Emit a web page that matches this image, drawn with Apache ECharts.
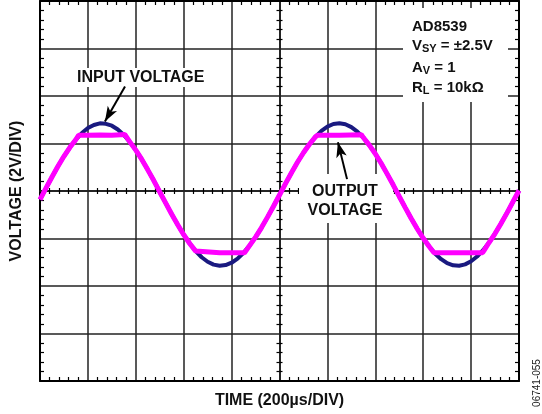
<!DOCTYPE html>
<html>
<head>
<meta charset="utf-8">
<script src="https://cdn.jsdelivr.net/npm/echarts@6/dist/echarts.min.js"></script>
<style>
html,body{margin:0;padding:0;background:#fff;}
#chart{width:542px;height:414px;}
</style>
</head>
<body>
<div id="chart"></div>
<script>
// Time in µs relative to screen centre (200 µs/div, 10 divisions)
const timeUs = [-1000,-975,-950,-925,-900,-875,-850,-825,-800,-775,-750,-725,-700,-675,-650,-625,-600,-575,-550,-525,
  -500,-475,-450,-425,-400,-375,-350,-325,-300,-275,-250,-225,-200,-175,-150,-125,-100,-75,-50,-25,
  0,25,50,75,100,125,150,175,200,225,250,275,300,325,350,375,400,425,450,475,
  500,525,550,575,600,625,650,675,700,725,750,775,800,825,850,875,900,925,950,975,1000];
// Input voltage (V)
const inputV = [-0.36,0.12,0.59,1.04,1.46,1.84,2.17,2.44,2.65,2.78,2.85,2.83,2.75,2.59,2.36,2.07,1.72,1.33,0.89,0.44,
  -0.04,-0.51,-0.98,-1.42,-1.84,-2.21,-2.53,-2.79,-2.98,-3.10,-3.15,-3.12,-3.02,-2.85,-2.60,-2.30,-1.94,-1.54,-1.10,-0.64,
  -0.17,0.31,0.77,1.21,1.61,1.97,2.28,2.53,2.71,2.82,2.85,2.81,2.69,2.50,2.25,1.93,1.57,1.16,0.71,0.25,
  -0.23,-0.70,-1.16,-1.59,-1.99,-2.34,-2.64,-2.87,-3.04,-3.13,-3.15,-3.09,-2.96,-2.76,-2.49,-2.17,-1.79,-1.37,-0.92,-0.45,0.02];
// Output voltage (V) (clipped)
const outputT = [-1000,-975,-950,-925,-900,-875,-850,-839,-800,-750,-700,-646,-625,-600,-575,-550,-525,
  -500,-475,-450,-425,-400,-375,-350,-342,-250,-146,-125,-100,-75,-50,-25,
  0,25,50,75,100,125,150,159,250,342,350,375,400,425,450,475,
  500,525,550,575,600,625,645,750,848,855,875,900,925,950,975,1000];
const outputV = [-0.36,0.12,0.59,1.04,1.46,1.84,2.17,2.35,2.35,2.36,2.35,2.38,2.07,1.72,1.33,0.89,0.44,
  -0.04,-0.51,-0.98,-1.42,-1.84,-2.21,-2.53,-2.60,-2.60,-2.60,-2.30,-1.94,-1.54,-1.10,-0.64,
  -0.17,0.31,0.77,1.21,1.61,1.97,2.28,2.35,2.35,2.37,2.25,1.93,1.57,1.16,0.71,0.25,
  -0.23,-0.70,-1.16,-1.59,-1.99,-2.34,-2.60,-2.60,-2.60,-2.49,-2.17,-1.79,-1.37,-0.92,-0.45,0.02];
const xRange = [-1000, 1000], xStep = 200;
const yRange = [-8, 8], yStep = 2;
const inputArrow = [[-645, 4.40], [-729, 2.93]];
const outputArrow = [[282, 0.50], [244, 2.05]];

const FONT = '"Liberation Sans", Arial, Helvetica, sans-serif';
const chart = echarts.init(document.getElementById('chart'), null, {renderer: 'canvas'});

function baseAxis(pos, extra) {
  const isX = pos === 'top' || pos === 'bottom';
  return Object.assign({
    type: 'value', position: pos,
    min: isX ? xRange[0] : yRange[0],
    max: isX ? xRange[1] : yRange[1],
    interval: isX ? xStep : yStep,
    axisLabel: {show: false},
    axisTick: {show: false, inside: true},
    minorTick: {show: true, splitNumber: 5, length: 4, lineStyle: {color: '#000', width: 1.2}},
    splitLine: {show: false},
    axisLine: {show: true, onZero: false, lineStyle: {color: '#000', width: 2}}
  }, extra || {});
}
const gridLine = {show: true, lineStyle: {color: '#222', width: 1.5}};
const centerLine = (up) => ({
  axisLine: {show: true, onZero: true, onZeroAxisIndex: 0, lineStyle: {color: '#222', width: 1.5}},
  axisTick: {show: false, inside: up},
  minorTick: {show: true, splitNumber: 5, length: 3, lineStyle: {color: '#000', width: 1.2}}
});
const sub = (main, s, rest, top) => ({
  type: 'text', z: 11, left: 412, top: top, style: {
    text: '{m|' + main + '}{s|' + s + '}{m|' + rest + '}', fill: '#111',
    rich: {m: {font: 'bold 15px ' + FONT, fill: '#111', lineHeight: 18},
           s: {font: 'bold 11px ' + FONT, fill: '#111', lineHeight: 8, verticalAlign: 'bottom'}}}
});

const option = {
  animation: false,
  backgroundColor: '#fff',
  grid: {left: 40, right: 23, top: 1, bottom: 31, containLabel: false},
  xAxis: [
    baseAxis('bottom', {splitLine: gridLine, name: 'TIME (200µs/DIV)', nameLocation: 'middle', nameGap: 12,
      nameTextStyle: {fontFamily: FONT, fontWeight: 'bold', fontSize: 16, color: '#111', verticalAlign: 'top'}}),
    baseAxis('top'),
    baseAxis('bottom', centerLine(true)),
    baseAxis('bottom', centerLine(false))
  ],
  yAxis: [
    baseAxis('left', {splitLine: gridLine, name: 'VOLTAGE (2V/DIV)', nameLocation: 'middle', nameGap: 15,
      nameTextStyle: {fontFamily: FONT, fontWeight: 'bold', fontSize: 16, color: '#111'}}),
    baseAxis('right'),
    baseAxis('left', centerLine(true)),
    baseAxis('left', centerLine(false))
  ],
  series: [
    {
      name: 'INPUT VOLTAGE', type: 'line', xAxisIndex: 0, yAxisIndex: 0,
      showSymbol: false, silent: true, z: 3,
      data: timeUs.map((t, i) => [t, inputV[i]]),
      lineStyle: {color: '#1a1a80', width: 4},
      markLine: {
        silent: true, symbol: ['none', 'arrow'], symbolSize: [8, 15], label: {show: false},
        lineStyle: {color: '#000', width: 2, type: 'solid'},
        data: [
          [{coord: inputArrow[0]}, {coord: inputArrow[1]}],
          [{coord: outputArrow[0]}, {coord: outputArrow[1]}]
        ]
      }
    },
    {
      name: 'OUTPUT VOLTAGE', type: 'line', xAxisIndex: 0, yAxisIndex: 0,
      showSymbol: false, silent: true, z: 4,
      data: outputT.map((t, i) => [t, outputV[i]]),
      lineStyle: {color: '#ff00ff', width: 5}
    }
  ],
  graphic: [
    {type: 'rect', z: 1, shape: {x: 403, y: 8, width: 105, height: 94}, style: {fill: '#fff'}},
    {type: 'text', z: 11, left: 412, top: 19, style: {text: 'AD8539', font: 'bold 15px ' + FONT, fill: '#111'}},
    sub('V', 'SY', ' = ±2.5V', 38),
    sub('A', 'V', ' = 1', 60),
    sub('R', 'L', ' = 10kΩ', 80),
    {type: 'rect', z: 1, shape: {x: 72, y: 68, width: 140, height: 19}, style: {fill: '#fff'}},
    {type: 'text', z: 11, left: 77, top: 70, style: {text: 'INPUT VOLTAGE', font: 'bold 16px ' + FONT, fill: '#111'}},
    {type: 'rect', z: 1, shape: {x: 299, y: 174, width: 94, height: 49}, style: {fill: '#fff'}},
    {type: 'text', z: 11, x: 345, y: 182, style: {text: 'OUTPUT\nVOLTAGE', font: 'bold 16px ' + FONT, fill: '#111', align: 'center', verticalAlign: 'top', lineHeight: 19}},
    {type: 'text', z: 11, x: 537, y: 383, rotation: Math.PI / 2, style: {text: '06741-055', font: '10px ' + FONT, fill: '#222', align: 'center', verticalAlign: 'middle'}}
  ]
};
chart.setOption(option);
</script>
</body>
</html>
